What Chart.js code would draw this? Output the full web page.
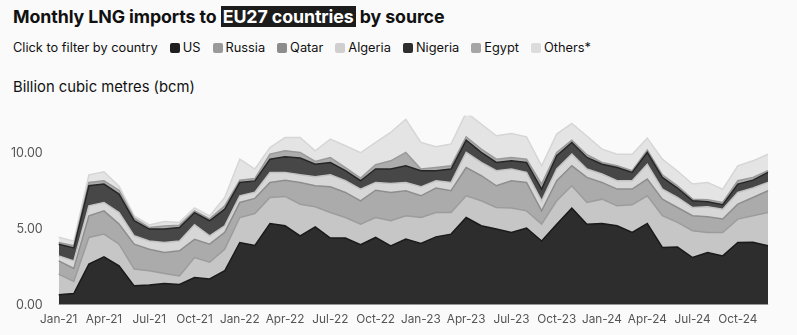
<!DOCTYPE html>
<html>
<head>
<meta charset="utf-8">
<script src="https://cdn.jsdelivr.net/npm/chart.js@4.4.1/dist/chart.umd.min.js"></script>
<style>
  html, body { margin: 0; padding: 0; background: #fafafa; }
  body { width: 797px; height: 335px; position: relative; overflow: hidden; font-family: Inter, "Noto Sans", sans-serif; color: #111; }
  #title { position: absolute; left: 13px; top: 6px; font-size: 17.8px; font-weight: 700; letter-spacing: -0.1px; }
  #title span.hl { background: #1c1c1c; color: #fff; padding: 0 2px; }
  #legend { position: absolute; left: 13px; top: 40px; font-size: 12.8px; display: flex; align-items: center; white-space: nowrap; }
  #legend .item { display: flex; align-items: center; margin-left: 12px; }
  #legend .sw { width: 10px; height: 10px; border-radius: 2px; margin-right: 3px; }
  #unit { position: absolute; left: 13px; top: 78px; font-size: 14.8px; }
  #wrap { position: absolute; left: 0; top: 100px; width: 797px; height: 235px; }
</style>
</head>
<body>
<div id="title">Monthly LNG imports to <span class="hl">EU27 countries</span> by source</div>
<div id="legend"><span>Click to filter by country</span></div>
<div id="unit">Billion cubic metres (bcm)</div>
<div id="wrap"><canvas id="lngChart"></canvas></div>
<script>
// months Jan-21 .. Dec-24
var months = [];
var yrs = ['21', '22', '23', '24'];
var mn = ['Jan', 'Feb', 'Mar', 'Apr', 'May', 'Jun', 'Jul', 'Aug', 'Sep', 'Oct', 'Nov', 'Dec'];
yrs.forEach(function (y) { mn.forEach(function (m) { months.push(m + '-' + y); }); });

// bcm per month
var us = [0.66, 0.74, 2.68, 3.15, 2.57, 1.25, 1.30, 1.40, 1.34, 1.80, 1.70, 2.24,
          4.10, 3.90, 5.35, 5.20, 4.54, 5.13, 4.39, 4.39, 3.95, 4.43, 3.88, 4.32,
          4.04, 4.47, 4.65, 5.74, 5.20, 4.98, 4.76, 5.05, 4.20, 5.30, 6.36, 5.30,
          5.35, 5.20, 4.76, 5.35, 3.77, 3.80, 3.11, 3.44, 3.22, 4.10, 4.12, 3.88];
var russia = [1.36, 0.80, 1.75, 1.50, 1.42, 1.10, 0.94, 0.66, 0.56, 1.31, 1.10, 1.42,
              1.64, 2.10, 1.71, 1.93, 2.08, 1.32, 1.68, 1.35, 1.36, 1.31, 1.65, 1.54,
              1.70, 1.60, 1.42, 1.43, 1.64, 1.42, 1.60, 1.13, 1.11, 1.54, 1.47, 1.43,
              1.60, 1.31, 1.82, 1.82, 2.09, 1.62, 1.76, 1.32, 1.54, 1.54, 1.74, 2.19];
var qatar = [0.87, 0.85, 1.43, 1.53, 1.32, 1.64, 1.42, 1.38, 1.65, 1.20, 1.19, 1.10,
             0.99, 1.00, 0.99, 1.07, 1.43, 1.38, 1.69, 1.65, 1.53, 1.80, 1.86, 1.64,
             1.43, 1.61, 1.43, 1.86, 1.65, 1.43, 1.80, 1.87, 0.87, 1.32, 1.31, 1.65,
             1.10, 1.10, 1.03, 1.10, 1.09, 0.98, 0.99, 1.03, 0.88, 0.98, 1.20, 1.43];
var algeria = [0.33, 0.50, 0.65, 0.55, 0.76, 0.55, 0.54, 0.66, 0.65, 0.95, 0.55, 0.44,
               0.44, 0.40, 0.66, 0.51, 0.50, 0.59, 0.79, 0.77, 0.77, 0.51, 0.59, 0.55,
               0.59, 0.48, 0.55, 0.99, 0.87, 0.99, 0.77, 0.66, 0.66, 0.77, 0.77, 0.55,
               0.55, 0.55, 0.55, 0.98, 0.66, 0.66, 0.54, 0.66, 0.65, 0.77, 0.62, 0.55];
var nigeria = [0.77, 0.85, 1.32, 1.21, 1.21, 0.99, 0.78, 0.88, 0.89, 0.80, 0.99, 1.09,
               0.88, 0.75, 0.87, 1.03, 1.10, 0.83, 0.81, 0.66, 0.55, 0.88, 0.95, 1.09,
               1.06, 0.66, 0.88, 0.81, 0.66, 0.54, 0.54, 0.65, 0.77, 0.87, 0.77, 0.76,
               0.65, 0.87, 0.55, 0.77, 0.77, 0.62, 0.44, 0.33, 0.29, 0.55, 0.52, 0.66];
var egypt = [0.11, 0.15, 0.22, 0.22, 0.26, 0.17, 0.10, 0.20, 0.15, 0.12, 0.12, 0.22,
             0.15, 0.15, 0.33, 0.39, 0.37, 0.18, 0.33, 0.21, 0.17, 0.28, 0.54, 0.88,
             0.11, 0.21, 0.21, 0.22, 0.22, 0.22, 0.22, 0.22, 0.33, 0.22, 0.15, 0.18,
             0.11, 0.11, 0.11, 0.15, 0.17, 0.15, 0.11, 0.13, 0.15, 0.22, 0.18, 0.11];
var others = [0.35, 0.30, 0.50, 0.59, 0.26, 0.15, 0.17, 0.30, 0.18, 0.20, 0.20, 0.55,
              1.38, 0.63, 0.44, 0.87, 0.98, 0.70, 1.21, 1.43, 1.67, 1.47, 1.87, 2.18,
              1.75, 1.37, 1.43, 1.60, 1.65, 1.54, 1.58, 1.47, 1.20, 1.21, 1.10, 1.23,
              0.88, 0.76, 1.08, 0.79, 1.03, 0.97, 0.99, 1.14, 0.87, 0.98, 1.09, 1.08];

var yTicks = [0, 5, 10];
var xTickEvery = 3;

var series = [
    { label: 'US', data: us, fill: '#2d2d2d', line: '#1a1a1a', key: '#1f1f1f' },
    { label: 'Russia', data: russia, fill: '#c6c6c6', line: '#9c9c9c', key: '#9a9a9a' },
    { label: 'Qatar', data: qatar, fill: '#ababab', line: '#8e8e8e', key: '#8c8c8c' },
    { label: 'Algeria', data: algeria, fill: '#d7d7d7', line: '#c2c2c2', key: '#cfcfcf' },
    { label: 'Nigeria', data: nigeria, fill: '#474747', line: '#262626', key: '#2e2e2e' },
    { label: 'Egypt', data: egypt, fill: '#acacac', line: '#9a9a9a', key: '#a5a5a5' },
    { label: 'Others*', data: others, fill: '#e4e4e4', line: '#d6d6d6', key: '#dcdcdc' }
];

// html legend
var legendEl = document.getElementById('legend');
series.forEach(function (s) {
    var it = document.createElement('span');
    it.className = 'item';
    it.innerHTML = '<span class="sw" style="background:' + s.key + '"></span>' + s.label;
    legendEl.appendChild(it);
});

var ctx = document.getElementById('lngChart').getContext('2d');
var lngChart = new Chart(ctx, {
    type: 'line',
    data: {
        labels: months,
        datasets: series.map(function (s, i) {
            return {
                label: s.label,
                data: s.data,
                backgroundColor: s.fill,
                borderColor: s.line,
                borderWidth: 1.5,
                fill: i === 0 ? 'origin' : '-1',
                pointRadius: 0,
                tension: 0
            };
        })
    },
    options: {
        responsive: true,
        maintainAspectRatio: false,
        animation: false,
        layout: { padding: { left: 3, right: 29, top: 6, bottom: 8 } },
        plugins: { legend: { display: false }, tooltip: { enabled: false } },
        scales: {
            x: {
                offset: false,
                grid: { display: false },
                border: { color: '#e6e6e6' },
                ticks: {
                    color: '#555',
                    font: { family: 'Inter', size: 11.8 },
                    maxRotation: 0,
                    padding: 0,
                    autoSkip: false,
                    callback: function (v, i) { return i % xTickEvery === 0 ? months[i] : ''; }
                }
            },
            y: {
                stacked: true,
                min: 0,
                max: 12.45,
                grid: { display: false },
                border: { display: false },
                afterBuildTicks: function (axis) { axis.ticks = yTicks.map(function (v) { return { value: v }; }); },
                ticks: {
                    color: '#555',
                    font: { family: 'Inter', size: 12.5 },
                    padding: 8,
                    callback: function (v) { return v.toFixed(2); }
                }
            }
        }
    }
});
</script>
</body>
</html>
